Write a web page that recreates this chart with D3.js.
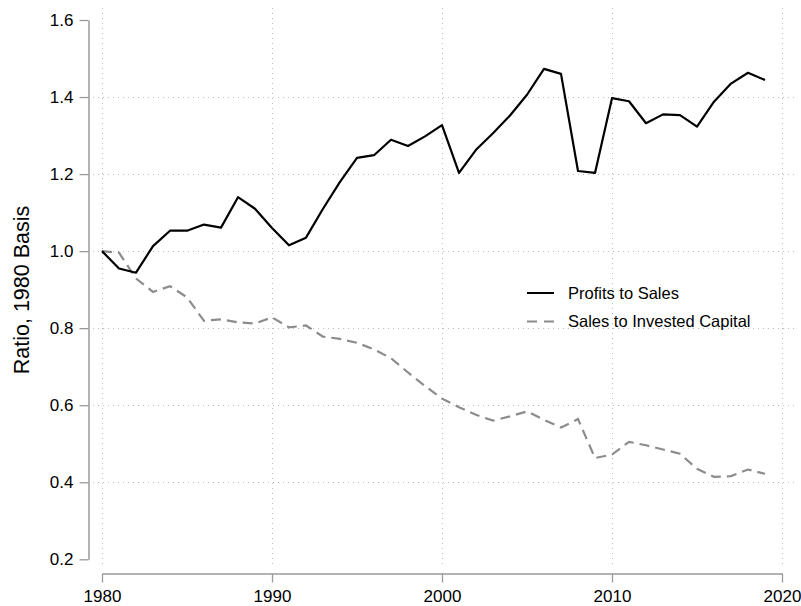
<!DOCTYPE html>
<html>
  <head>
    <meta charset="utf-8" />
    <title>Profits to sales and sales to invested capital</title>
    <script src="https://cdn.jsdelivr.net/npm/d3@7"></script>
    <style>
      body { margin: 0; background: #fff; }
      text { font-family: Helvetica, Arial, "Liberation Sans", sans-serif; fill: #000; }
    </style>
  </head>
  <body>
    <svg id="svg" width="801" height="606" xmlns="http://www.w3.org/2000/svg"></svg>
    <script>
      // Data
      const years = d3.range(1980, 2020);
      const profitsToSales = [
        1.0, 0.955, 0.944, 1.013, 1.053, 1.053, 1.069, 1.061, 1.14, 1.11,
        1.06, 1.015, 1.035, 1.11, 1.18, 1.242, 1.249, 1.289, 1.273, 1.298,
        1.327, 1.203, 1.263, 1.306, 1.352, 1.406, 1.473, 1.46, 1.208, 1.203,
        1.397, 1.389, 1.332, 1.355, 1.353, 1.323, 1.388, 1.435, 1.463, 1.444
      ];
      const salesToCapital = [
        1.0, 0.996, 0.929, 0.894, 0.909, 0.88, 0.819, 0.823, 0.815, 0.812,
        0.828, 0.802, 0.807, 0.778, 0.772, 0.762, 0.745, 0.722, 0.685, 0.65,
        0.617, 0.595, 0.575, 0.56, 0.571, 0.584, 0.562, 0.542, 0.564, 0.463,
        0.472, 0.505, 0.496, 0.485, 0.474, 0.435, 0.414, 0.416, 0.433, 0.422
      ];
      const xTicks = [1980, 1990, 2000, 2010, 2020];
      const yTicks = [0.2, 0.4, 0.6, 0.8, 1.0, 1.2, 1.4, 1.6];
      const seriesNames = ["Profits to Sales", "Sales to Invested Capital"];

      let svg = d3.select("svg");

      let x = d3.scaleLinear().domain([1980, 2020]).range([102, 782]);
      let y = d3.scaleLinear().domain([0.2, 1.6]).range([559.3, 20]);

      // Gridlines (dotted)
      let grid = svg.append("g")
        .attr("stroke", "#bdbdbd")
        .attr("stroke-width", 1)
        .attr("stroke-dasharray", "1,4");

      grid.selectAll(".hgrid")
        .data(yTicks.filter((d) => d > 0.2 && d < 1.6))
        .enter()
        .append("line")
        .attr("x1", 93)
        .attr("x2", 797)
        .attr("y1", (d) => Math.round(y(d)) + 0.5)
        .attr("y2", (d) => Math.round(y(d)) + 0.5);

      grid.selectAll(".vgrid")
        .data(xTicks)
        .enter()
        .append("line")
        .attr("x1", (d) => Math.round(x(d)) + 0.5)
        .attr("x2", (d) => Math.round(x(d)) + 0.5)
        .attr("y1", 8)
        .attr("y2", 568);

      // Y axis
      let yAxis = svg.append("g")
        .attr("transform", "translate(88.5,0)")
        .call(d3.axisLeft(y).tickValues(yTicks).tickFormat(d3.format(".1f")).tickSize(9).tickSizeOuter(0));
      yAxis.select(".domain").attr("stroke", "#9a9a9a").attr("stroke-width", 1.5);
      yAxis.selectAll(".tick line").attr("stroke", "#9a9a9a").attr("stroke-width", 1.3);
      yAxis.selectAll(".tick text")
        .attr("x", -15)
        .style("font-size", "17px")
        .style("font-family", "Helvetica, Arial, 'Liberation Sans', sans-serif")
        .attr("fill", "#000");

      // X axis
      let xAxis = svg.append("g")
        .attr("transform", "translate(0,573.5)")
        .call(d3.axisBottom(x).tickValues(xTicks).tickFormat(d3.format("d")).tickSize(9).tickSizeOuter(0));
      xAxis.select(".domain").attr("stroke", "#9a9a9a").attr("stroke-width", 1.5);
      xAxis.selectAll(".tick line").attr("stroke", "#9a9a9a").attr("stroke-width", 1.3);
      xAxis.selectAll(".tick text")
        .attr("y", 16)
        .style("font-size", "17px")
        .style("font-family", "Helvetica, Arial, 'Liberation Sans', sans-serif")
        .attr("fill", "#000");

      // Y axis title
      svg.append("text")
        .attr("transform", "translate(29,290) rotate(-90)")
        .attr("text-anchor", "middle")
        .style("font-size", "21.5px")
        .text("Ratio, 1980 Basis");

      // Lines
      let line = d3.line()
        .x((d, i) => x(years[i]))
        .y((d) => y(d));

      svg.append("path")
        .datum(salesToCapital)
        .attr("d", line)
        .attr("fill", "none")
        .attr("stroke", "#8c8c8c")
        .attr("stroke-width", 2.2)
        .attr("stroke-dasharray", "10,6");

      svg.append("path")
        .datum(profitsToSales)
        .attr("d", line)
        .attr("fill", "none")
        .attr("stroke", "#000")
        .attr("stroke-width", 2.2)
        .attr("stroke-linejoin", "round");

      // Legend
      let legend = svg.append("g");
      let legendStyles = [
        { stroke: "#000", dash: null },
        { stroke: "#8c8c8c", dash: "10,7" }
      ];
      seriesNames.forEach((name, i) => {
        let ly = 293 + i * 28.5;
        legend.append("line")
          .attr("x1", 527)
          .attr("x2", 554)
          .attr("y1", ly)
          .attr("y2", ly)
          .attr("stroke", legendStyles[i].stroke)
          .attr("stroke-width", 2)
          .attr("stroke-dasharray", legendStyles[i].dash);
        legend.append("text")
          .attr("x", 568)
          .attr("y", ly)
          .attr("dy", "0.35em")
          .style("font-size", "16.5px")
          .text(name);
      });
    </script>
  </body>
</html>
